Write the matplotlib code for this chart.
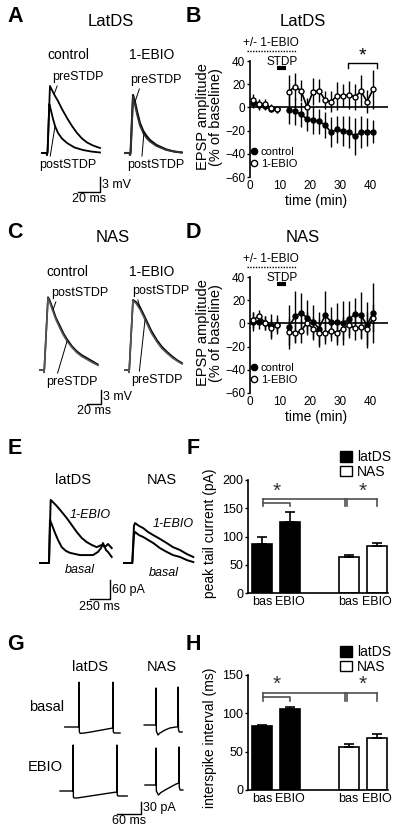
import numpy as np
import matplotlib.pyplot as plt
from matplotlib.lines import Line2D
from matplotlib.patches import Patch

plt.rcParams['font.family'] = ['Liberation Sans', 'DejaVu Sans']

# ---------------- data ----------------
# A: EPSPs (ms, mV), LatDS
a_t_ctl_pre = [-4.5, -0.5, 0, 0.5, 2.7, 4.5, 7.3, 10, 13.6, 18.2, 22.7, 27.3, 31.8, 36.4, 41.8, 48.2]
a_v_ctl_pre = [0, 0, -0.4, 0.2, 13.4, 12.6, 11.4, 10.4, 8.8, 7.0, 5.4, 4.0, 2.9, 2.1, 1.5, 1.0]
a_t_ctl_post = [-4.5, -0.5, 0, 0.5, 2.1, 3.5, 5.5, 7.3, 10, 13.6, 18.2, 25, 32.7, 40, 48.2]
a_v_ctl_post = [0, 0, -0.4, 0.2, 9.8, 8.6, 6.8, 5.4, 4.0, 2.9, 2.0, 1.1, 0.6, 0.3, 0.1]
a_t_ebio = [-4.5, -0.5, 0, 0.5, 2.7, 4.5, 6.5, 9, 12, 15, 18, 24, 33, 40, 47]
a_v_ebio_pre = [0, 0, -0.4, 0.2, 11.6, 10.2, 8.2, 6.0, 4.4, 3.4, 2.6, 1.6, 0.7, 0.3, 0.1]
a_v_ebio_post = [0, 0, -0.4, 0.2, 11.3, 9.6, 7.6, 5.5, 4.0, 3.0, 2.3, 1.4, 0.6, 0.3, 0.1]

# C: EPSPs (ms, mV), NAS
c_t_ctl = [-5.7, -0.7, 0, 0.5, 5.7, 8, 12.9, 17, 22.9, 28, 32.9, 40, 47, 54, 61, 69, 77]
c_v_ctl_post = [0, 0, -0.5, 0.3, 15.6, 15.0, 13.0, 11.2, 9.4, 7.8, 6.6, 5.1, 4.0, 3.2, 2.6, 1.9, 1.2]
c_v_ctl_pre = [0, 0, -0.5, 0.3, 15.4, 14.6, 12.5, 10.8, 8.9, 7.4, 6.2, 4.8, 3.7, 2.9, 2.3, 1.6, 1.0]
c_t_ebio = [-5.7, -0.7, 0, 0.5, 5.7, 10, 15.7, 20, 25.7, 32, 40, 47, 54.3, 62, 69, 75.7]
c_v_ebio_post = [0, 0, -0.5, 0.3, 15.0, 14.6, 13.5, 12.2, 10.4, 8.4, 6.4, 5.0, 3.9, 2.9, 2.1, 1.5]
c_v_ebio_pre = [0, 0, -0.5, 0.3, 14.8, 14.3, 13.0, 11.7, 9.9, 7.9, 6.0, 4.6, 3.6, 2.6, 1.9, 1.3]

# B / D: time course (min, % of baseline)
time_min = [1, 3, 5, 7, 9, 13, 15, 17, 19, 21, 23, 25, 27, 29, 31, 33, 35, 37, 39, 41]
b_ctl = [3.5, 2, 1.5, -1, -1.5, -2.3, -3.5, -6, -10, -11, -12, -15, -21.5, -19, -20.5, -21, -25, -21, -21, -21]
b_ctl_err = [4, 4, 4, 3, 3, 12, 12, 11, 10, 12, 11, 11, 13, 12, 13, 14, 16, 14, 12, 10]
b_ebio = [6.7, 3, 3, -0.5, -1.5, 13.7, 18, 14.5, 0.5, 13.7, 14.5, 6.5, 5, 10, 10, 11, 9, 14, 5, 15.5]
b_ebio_err = [5, 4, 4, 3, 3, 14, 12, 9, 8, 12, 10, 8, 9, 12, 10, 12, 11, 14, 10, 17]
d_ctl = [1.5, 1.5, 0.5, -2.5, -1, -3, 6, 9, 5, 1.5, -4.5, 7, 1.5, 1, 0.5, 3.5, 8, 7, -1.5, 9]
d_ctl_err = [8, 6, 6, 11, 8, 19, 22, 17, 15, 14, 14, 21, 13, 17, 19, 16, 14, 20, 20, 26]
d_ebio = [3, 6.5, 0.5, -4, -1, -7, -8.5, -6.5, 0.5, -4.5, -8, -8, -6.5, -8, -4.5, -1.5, -4, -3.5, -4.5, 4.5]
d_ebio_err = [7, 5, 6, 8, 6, 12, 8, 10, 9, 10, 12, 10, 9, 11, 10, 9, 10, 10, 14, 12]

# E: tail currents (ms, pA)
e_t_lat_ebio = [-112, -12, 0, 21, 50, 96, 150, 221, 284, 346, 409, 471, 534, 596, 659, 700, 737, 784]
e_v_lat_ebio = [0, 0, 0, 199, 192, 180, 164, 142, 120, 98, 79, 66, 57, 50, 57, 50, 60, 47]
e_t_lat_bas = [-112, -12, 0, 12, 37, 75, 112, 159, 212, 262, 387, 550, 612, 650, 675, 712, 737, 784]
e_v_lat_bas = [0, 0, 0, 136, 120, 95, 73, 50, 38, 32, 25, 25, 35, 47, 63, 41, 35, 19]
e_t_nas = [-104, -10, 0, 21, 34, 84, 137, 196, 262, 346, 430, 509, 596, 684, 763]
e_v_nas_ebio = [0, 0, 0, 117, 126, 117, 110, 98, 88, 76, 63, 50, 41, 28, 19]
e_v_nas_bas = [0, 0, 0, 88, 98, 88, 82, 73, 63, 47, 35, 25, 19, 9, 3]

# F: peak tail current (pA)
f_latds = [86, 125]
f_latds_err = [13, 19]
f_nas = [63, 83]
f_nas_err = [4, 5]

# G: firing (ms, trace units)
g_t_lat_bas = [-36, -0.5, 0, 0.8, 3, 10, 30, 55, 80, 85.5, 86, 86.8, 89, 104]
g_v_lat_bas = [0, 0, 112, -12, -16, -15.5, -12.5, -8, -3.5, -2.5, 112, -12, -15, -15]
g_t_lat_ebio = [-33, -0.5, 0, 0.8, 3, 10, 40, 70, 100, 110.5, 111, 111.8, 114, 137]
g_v_lat_ebio = [0, 0, 115, -15, -17.5, -17.5, -13, -8.5, -4, -2.5, 115, -10, -12.5, -12.5]
g_t_nas_bas = [-30, -0.5, 0, 0.8, 5, 10, 23, 35, 50, 55.5, 56, 56.8, 59, 66]
g_v_nas_bas = [0, 0, 92.5, -15, -25, -20, -12.5, -7.5, -5, -4.5, 95, -12, -17.5, -17.5]
g_t_nas_ebio = [-28, -0.5, 0, 0.8, 6, 12, 23, 35, 50, 57.5, 58, 58.8, 61, 68]
g_v_nas_ebio = [0, 0, 92.5, -15, -25, -19, -12.5, -6, 2, 5, 95, -5, -12.5, -12.5]

# H: interspike interval (ms)
h_latds = [84, 105.5]
h_latds_err = [1, 2.5]
h_nas = [56, 68]
h_nas_err = [4, 4.5]

bar_labels = ['bas', 'EBIO', 'bas', 'EBIO']

# ---------------- figure helpers ----------------
W, H = 400, 832
fig = plt.figure(figsize=(W / 100, H / 100), dpi=100)


def px_axes(x0, y0, x1, y1):
    return fig.add_axes([x0 / W, 1 - y1 / H, (x1 - x0) / W, (y1 - y0) / H])


def ftext(x, y, s, **kw):
    kw.setdefault('ha', 'center')
    kw.setdefault('va', 'center')
    fig.text(x / W, 1 - y / H, s, **kw)


def trace_axes(x0, y0, x1, y1, ox, oy, sx, sy):
    ax = px_axes(x0, y0, x1, y1)
    ax.set_xlim((x0 - ox) / sx, (x1 - ox) / sx)
    ax.set_ylim((oy - y1) / sy, (oy - y0) / sy)
    ax.axis('off')
    return ax


def scale_bar(ax, x, y, dx, dy, xlab, ylab):
    ax.plot([x - dx, x, x], [y, y, y + dy], color='k', lw=1, clip_on=False)
    ax.annotate(ylab, xy=(x, y + dy / 2), xytext=(1.5, 0), textcoords='offset points',
                ha='left', va='center', fontsize=9)
    ax.annotate(xlab, xy=(x - dx / 2, y), xytext=(0, -1), textcoords='offset points',
                ha='center', va='top', fontsize=9)


def label(ax, s, xy, tx, ty, rel):
    ax.annotate(s, xy=xy, xytext=(tx, H - ty), textcoords='figure pixels',
                ha='center', va='center', fontsize=9,
                arrowprops=dict(arrowstyle='-', lw=0.7, color='k', relpos=rel,
                                shrinkA=0, shrinkB=0))


# panel letters
for s, x, y in [('A', 15, 17), ('B', 193, 17), ('C', 15, 232), ('D', 193, 232),
                ('E', 15, 448), ('F', 193, 448), ('G', 16, 645), ('H', 193, 645)]:
    ftext(x, y, s, fontsize=15.5, fontweight='bold')

# ---------------- A ----------------
ax = trace_axes(30, 70, 200, 210, 47, 153, 1.1, 5)
ebio_off = 75.5
ax.plot(a_t_ctl_pre, a_v_ctl_pre, color='k', lw=1.3)
ax.plot(a_t_ctl_post, a_v_ctl_post, color='k', lw=1.3)
ax.plot(np.array(a_t_ebio) + ebio_off, a_v_ebio_pre, color='k', lw=1.5)
ax.plot(np.array(a_t_ebio) + ebio_off, a_v_ebio_post, color='#333333', lw=1.3)
label(ax, 'preSTDP', (6.4, 11.7), 78, 77, (0.12, 0.05))
label(ax, 'postSTDP', (7.3, 5.4), 68, 165, (0.18, 0.95))
label(ax, 'preSTDP', (ebio_off + 4.5, 10.2), 156, 80, (0.2, 0.05))
label(ax, 'postSTDP', (ebio_off + 12.7, 4.2), 156, 165, (0.25, 0.95))
scale_bar(ax, 48.2, -7.8, 20, 3, '20 ms', '3 mV')
ftext(111, 21, 'LatDS', fontsize=12)
ftext(68, 55, 'control', fontsize=10)
ftext(152, 55, '1-EBIO', fontsize=10)

# ---------------- C ----------------
ax = trace_axes(30, 280, 200, 420, 44, 370, 0.7, 4.67)
ebio_off = 121.4
ax.plot(c_t_ctl, c_v_ctl_post, color='k', lw=1.2)
ax.plot(c_t_ctl, c_v_ctl_pre, color='#555555', lw=1.2)
ax.plot(np.array(c_t_ebio) + ebio_off, c_v_ebio_post, color='k', lw=1.2)
ax.plot(np.array(c_t_ebio) + ebio_off, c_v_ebio_pre, color='#555555', lw=1.2)
label(ax, 'postSTDP', (12.9, 12.9), 80, 293, (0.1, 0.05))
label(ax, 'preSTDP', (33, 6.2), 72, 382, (0.2, 0.95))
label(ax, 'postSTDP', (ebio_off + 15.7, 13.3), 161, 291, (0.08, 0.05))
label(ax, 'preSTDP', (ebio_off + 22.9, 10.7), 157, 380, (0.15, 0.95))
scale_bar(ax, 81.4, -7.3, 20, 3, '20 ms', '3 mV')
ftext(113, 237, 'NAS', fontsize=12)
ftext(67, 272, 'control', fontsize=10)
ftext(152, 272, '1-EBIO', fontsize=10)


# ---------------- B / D ----------------
def epsp_panel(y_top, title, ctl, ctl_err, ebio, ebio_err, star):
    ax = px_axes(250, y_top, 388, y_top + 116)
    ax.set_xlim(0, 46)
    ax.set_ylim(-60, 40)
    ax.axhline(0, color='k', lw=1.2, zorder=1)
    for sl in (slice(0, 5), slice(5, None)):
        t = time_min[sl]
        ax.errorbar(t, ctl[sl], yerr=ctl_err[sl], fmt='-o', color='k', mfc='k', mec='k',
                    ms=3.6, lw=1.2, elinewidth=1, capsize=0, zorder=3)
        ax.errorbar(t, ebio[sl], yerr=ebio_err[sl], fmt='-o', color='k', mfc='w', mec='k',
                    ms=3.6, mew=1, lw=1.2, elinewidth=1, capsize=0, zorder=4)
    for side in ('top', 'right', 'bottom'):
        ax.spines[side].set_visible(False)
    ax.spines['left'].set_linewidth(1.2)
    ax.set_yticks([40, 20, 0, -20, -40, -60])
    ax.set_xticks([0, 10, 20, 30, 40])
    ax.tick_params(axis='y', direction='out', length=2.5, width=1, labelsize=8.5, pad=1)
    ax.tick_params(axis='x', length=0, labelsize=8.5, pad=2)
    # drug and pairing bars
    ax.plot([-1, 15.7], [48.6, 48.6], color='k', lw=1, dashes=(1, 1), clip_on=False)
    ax.plot([9, 12], [34, 34], color='k', lw=3, solid_capstyle='butt', clip_on=False)
    if star:
        ax.plot([32.7, 32.7, 42.3, 42.3], [34, 38, 38, 34], color='k', lw=1, clip_on=False)
        ax.text(37.5, 44, '*', ha='center', va='center', fontsize=14)
    handles = [Line2D([], [], marker='o', ls='none', color='k', mfc='k', ms=4.5),
               Line2D([], [], marker='o', ls='none', color='k', mfc='w', mew=1, ms=4.5)]
    ax.legend(handles, ['control', '1-EBIO'], loc='lower left', bbox_to_anchor=(-0.01, 0.07),
              frameon=False, fontsize=8, handletextpad=0.1, labelspacing=0.15,
              borderpad=0, handlelength=1, borderaxespad=0)
    ftext(303, y_top - 40, title, fontsize=12)
    ftext(271, y_top - 18, '+/- 1-EBIO', fontsize=8.5)
    ftext(282, y_top + 1, 'STDP', fontsize=8.5)
    ftext(316, y_top + 140, 'time (min)', fontsize=10)
    ftext(203, y_top + 56, 'EPSP amplitude', fontsize=10.5, rotation=90)
    ftext(216, y_top + 56, '(% of baseline)', fontsize=10.5, rotation=90)
    return ax


epsp_panel(61, 'LatDS', b_ctl, b_ctl_err, b_ebio, b_ebio_err, True)
epsp_panel(277, 'NAS', d_ctl, d_ctl_err, d_ebio, d_ebio_err, False)

# ---------------- E ----------------
ax = trace_axes(30, 490, 200, 615, 49, 563, 0.08, 0.317)
nas_off = 1041
ax.plot(e_t_lat_ebio, e_v_lat_ebio, color='k', lw=1.4)
ax.plot(e_t_lat_bas, e_v_lat_bas, color='k', lw=1.4)
ax.plot(np.array(e_t_nas) + nas_off, e_v_nas_ebio, color='k', lw=1.4)
ax.plot(np.array(e_t_nas) + nas_off, e_v_nas_bas, color='k', lw=1.4)
scale_bar(ax, 762, -114, 250, 60, '250 ms', '60 pA')
ftext(73, 480, 'latDS', fontsize=10.5)
ftext(162, 480, 'NAS', fontsize=10.5)
ftext(90, 515, '1-EBIO', fontsize=9, style='italic')
ftext(80, 570, 'basal', fontsize=9, style='italic')
ftext(173, 524, '1-EBIO', fontsize=9, style='italic')
ftext(164, 573, 'basal', fontsize=9, style='italic')


# ---------------- F / H ----------------
def bar_panel(y_top, y_bot, ymax, step, latds, latds_err, nas, nas_err, ylabel, ylab_y,
              br_top, br_mid, br_bot, star_y):
    ax = px_axes(248, y_top, 388, y_bot)
    pos = [0, 1, 3.1, 4.1]
    ax.bar(pos[:2], latds, width=0.7, color='k', edgecolor='k', lw=1.2, zorder=2)
    ax.bar(pos[2:], nas, width=0.7, color='w', edgecolor='k', lw=1.2, zorder=2)
    ax.errorbar(pos, latds + nas, yerr=[[0] * 4, latds_err + nas_err], fmt='none',
                ecolor='k', elinewidth=1.2, capsize=3.5, capthick=1.2, zorder=3)
    ax.set_xlim(-0.5, 4.5)
    ax.set_ylim(0, ymax)
    ax.set_yticks(np.arange(0, ymax + 1, step))
    ax.set_xticks(pos)
    ax.set_xticklabels(bar_labels)
    for side in ('top', 'right'):
        ax.spines[side].set_visible(False)
    for side in ('left', 'bottom'):
        ax.spines[side].set_linewidth(1.2)
    ax.tick_params(axis='y', direction='out', length=2.5, width=1, labelsize=9, pad=1)
    ax.tick_params(axis='x', length=0, labelsize=9, pad=2)
    gc = '#505050'
    kw = dict(color=gc, lw=1.2, clip_on=False)
    ax.plot([0.04, 4.1], [br_top, br_top], **kw)
    ax.plot([0.04, 0.04], [br_bot, br_top], **kw)
    ax.plot([0.04, 1.0, 1.0], [br_mid, br_mid, br_bot], **kw)
    ax.plot([2.96, 2.96], [br_bot, br_top], **kw)
    ax.plot([3.04, 3.04], [br_bot, br_top], **kw)
    ax.plot([4.1, 4.1], [br_bot, br_top], **kw)
    ax.text(0.54, star_y, '*', ha='center', va='center', fontsize=15, color='#333333')
    ax.text(3.58, star_y, '*', ha='center', va='center', fontsize=15, color='#333333')
    handles = [Patch(facecolor='k', edgecolor='k'), Patch(facecolor='w', edgecolor='k', lw=1)]
    ax.legend(handles, ['latDS', 'NAS'], loc='lower left', bbox_to_anchor=(0.66, 1.01),
              frameon=False, fontsize=10, handlelength=0.8, handleheight=0.8,
              handletextpad=0.4, labelspacing=0.05, borderpad=0, borderaxespad=0)
    ftext(210, ylab_y, ylabel, fontsize=10, rotation=90)
    return ax


bar_panel(480, 593, 200, 50, f_latds, f_latds_err, f_nas, f_nas_err,
          'peak tail current (pA)', 533, 166, 159, 154, 180)
bar_panel(675, 790, 150, 50, h_latds, h_latds_err, h_nas, h_nas_err,
          'interspike interval (ms)', 738, 127, 121.4, 116.5, 138)

# ---------------- G ----------------
ax = trace_axes(20, 670, 200, 830, 79, 727, 0.395, 0.4)
for t, v, dt, dv in [(g_t_lat_bas, g_v_lat_bas, 0, 0),
                     (g_t_lat_ebio, g_v_lat_ebio, -15, -160),
                     (g_t_nas_bas, g_v_nas_bas, 195, 5),
                     (g_t_nas_ebio, g_v_nas_ebio, 195, -145)]:
    ax.plot(np.array(t) + dt, np.array(v) + dv, color='k', lw=1)
scale_bar(ax, 156, -217.5, 60, 30, '60 ms', '30 pA')
ftext(90, 667, 'latDS', fontsize=10.5)
ftext(162, 667, 'NAS', fontsize=10.5)
ftext(47, 707, 'basal', fontsize=10.5)
ftext(45, 767, 'EBIO', fontsize=10.5)

fig.savefig('out.png', dpi=100)
